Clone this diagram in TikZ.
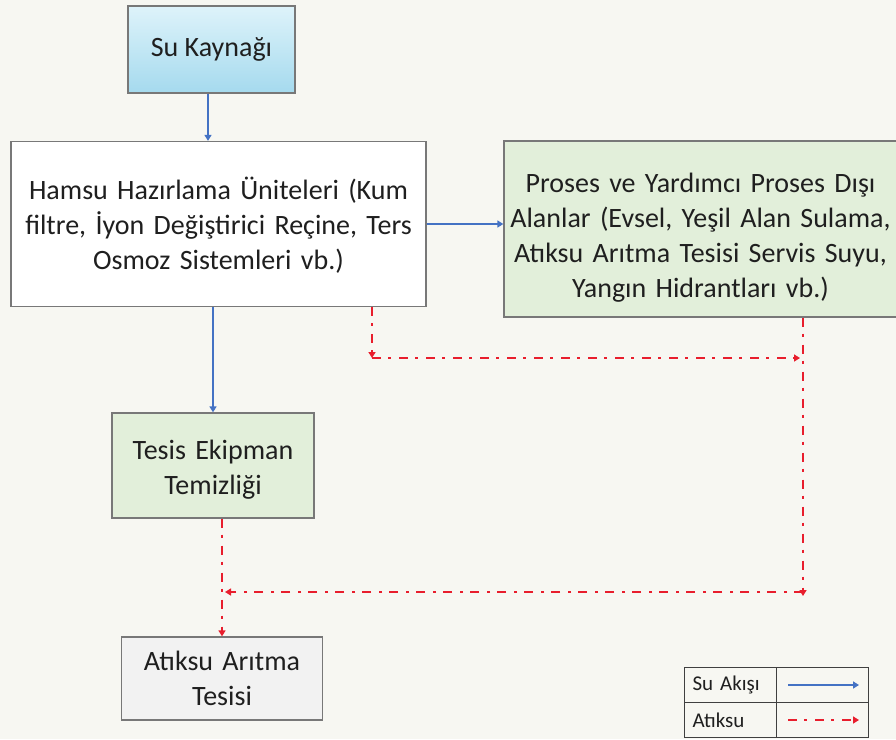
\documentclass[tikz,border=0pt]{standalone}
\usepackage{fontspec}
\setmainfont{Carlito}
\usetikzlibrary{arrows.meta}
\definecolor{bgc}{RGB}{247,247,242}
\definecolor{boxline}{RGB}{120,120,120}
\definecolor{greenfill}{RGB}{226,239,218}
\definecolor{grayfill}{RGB}{242,242,242}
\definecolor{cyantop}{RGB}{222,243,250}
\definecolor{cyanbot}{RGB}{165,218,238}
\definecolor{flowblue}{RGB}{68,114,196}
\definecolor{wastered}{RGB}{232,30,45}
\tikzset{
  boxbase/.style={draw=boxline, line width=1.3pt, align=center, inner sep=2pt,
    font=\fontsize{28}{35}\selectfont, text=black!88},
  flow/.style={draw=flowblue, line width=1.6pt, -{Triangle[width=7pt,length=6pt]}},
  waste/.style={draw=wastered, line width=2pt, dash pattern=on 9pt off 7pt on 3pt off 8pt,
    -{Triangle[width=7pt,length=6pt]}},
  legcell/.style={draw=black!75, line width=1pt, minimum width=92pt, minimum height=35pt,
    inner sep=0pt, font=\fontsize{21}{24}\selectfont, text=black!88},
}
\begin{document}
\begin{tikzpicture}[x=1pt,y=-1pt]
\fill[bgc] (0,0) rectangle (896,739);
\useasboundingbox (0,0) rectangle (896,739);
\node[boxbase, top color=cyantop, bottom color=cyanbot, minimum width=167pt, minimum height=87pt] (su) at (211.5,49.5) {Su Kaynağı};
\node[boxbase, fill=white, minimum width=415pt, minimum height=165pt, text width=410pt] (hamsu) at (218.5,224)
  {\rule{0pt}{25pt}Hamsu Hazırlama Üniteleri (Kum\\ filtre, İyon Değiştirici Reçine, Ters\\ Osmoz Sistemleri vb.)};
\node[boxbase, fill=greenfill, minimum width=393pt, minimum height=176pt, text width=385pt] (proses) at (700.5,229)
  {\rule{0pt}{36pt}Proses ve Yardımcı Proses Dışı\\ Alanlar (Evsel, Yeşil Alan Sulama,\\ Atıksu Arıtma Tesisi Servis Suyu,\\ Yangın Hidrantları vb.)};
\node[boxbase, fill=greenfill, minimum width=202pt, minimum height=105pt, text width=195pt] (tesis) at (213,465.5)
  {\rule{0pt}{27pt}Tesis Ekipman\\ Temizliği};
\node[boxbase, fill=grayfill, minimum width=201pt, minimum height=83pt, text width=195pt] (atiksu) at (222,678.5)
  {Atıksu Arıtma\\ Tesisi};
% blue flows
\draw[flow] ([xshift=-3.5pt]su.south) -- ([xshift=-10.5pt]hamsu.north);
\draw[flow] (hamsu.south -| tesis.north) -- (tesis.north);
\draw[flow] (hamsu.east) -- (hamsu.east -| proses.west);
% red flows
\coordinate (c1) at (372,358);
\coordinate (c2) at (803,358);
\coordinate (c3) at (803,592);
\coordinate (c4) at (222,592);
\draw[waste] (hamsu.south -| c1) -- (c1);
\draw[waste] (c1) -- ([xshift=-3pt]c2);
\draw[waste] (proses.south -| c3) -- ([yshift=-4pt]c3);
\draw[waste] (c3) -- ([xshift=3pt]c4);
\draw[waste] (tesis.south -| atiksu.north) -- (atiksu.north);
% legend
\node[legcell, anchor=north west, text width=84pt, align=left] (l1) at (684,667) {\hspace*{4pt}Su Akışı};
\node[legcell, anchor=north west] (l2) at (776,667) {};
\node[legcell, anchor=north west, text width=84pt, align=left] (l3) at (684,702) {\hspace*{4pt}Atıksu};
\node[legcell, anchor=north west] (l4) at (776,702) {};
\draw[flow] ([xshift=12pt]l2.west) -- ([xshift=-10pt]l2.east);
\draw[waste] ([xshift=12pt]l4.west) -- ([xshift=-10pt]l4.east);
\end{tikzpicture}
\end{document}
